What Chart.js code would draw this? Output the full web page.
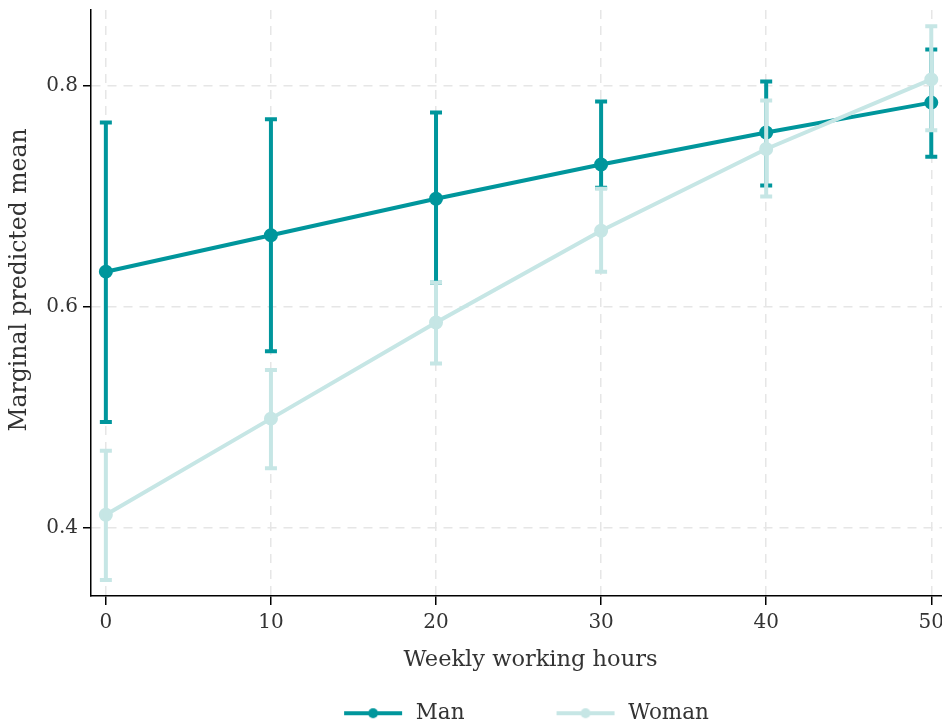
<!DOCTYPE html>
<html>
<head>
<meta charset="utf-8">
<script src="https://cdn.jsdelivr.net/npm/chart.js@4.4.1/dist/chart.umd.min.js"></script>
<style>
  html, body { margin: 0; padding: 0; background: #fff; }
  #wrap { width: 942px; height: 725px; }
</style>
</head>
<body>
<div id="wrap"><canvas id="marginsChart"></canvas></div>
<script>
const hours = [0, 10, 20, 30, 40, 50];
const yTicks = [0.4, 0.6, 0.8];

const manMean = [0.632, 0.665, 0.698, 0.729, 0.758, 0.785];
const manLow  = [0.496, 0.560, 0.622, 0.708, 0.710, 0.736];
const manHigh = [0.767, 0.770, 0.776, 0.786, 0.804, 0.833];

const womanMean = [0.412, 0.499, 0.586, 0.669, 0.743, 0.806];
const womanLow  = [0.353, 0.454, 0.549, 0.632, 0.700, 0.760];
const womanHigh = [0.470, 0.543, 0.622, 0.707, 0.787, 0.854];

const manColor = "#00969c";
const womanColor = "#c6e6e5";
const fontFamily = "'DejaVu Serif', serif";

// legend swatch: blank gap on the left, then line with a dot, small gap on the right
const swatchGap = 89;
const swatchW = swatchGap + 58 + 3;
function legendSwatch(color) {
    const c = document.createElement("canvas");
    c.width = swatchW; c.height = 14;
    const g = c.getContext("2d");
    g.strokeStyle = color;
    g.lineWidth = 4;
    g.beginPath(); g.moveTo(swatchGap, 7); g.lineTo(swatchGap + 58, 7); g.stroke();
    g.fillStyle = color;
    g.beginPath(); g.arc(swatchGap + 29, 7, 5, 0, Math.PI * 2); g.fill();
    return c;
}

const errorBars = {
    id: "errorBars",
    afterDatasetDraw(chart, args) {
        const ds = chart.data.datasets[args.index];
        if (!ds.low) return;
        const ctx = chart.ctx;
        const xs = chart.scales.x, ys = chart.scales.y;
        ctx.save();
        ctx.strokeStyle = ds.borderColor;
        ctx.lineWidth = 4;
        ds.data.forEach((p, i) => {
            const x = xs.getPixelForValue(p.x);
            const y1 = ys.getPixelForValue(ds.low[i]);
            const y2 = ys.getPixelForValue(ds.high[i]);
            ctx.beginPath();
            ctx.moveTo(x, y1); ctx.lineTo(x, y2);
            ctx.moveTo(x - 6, y1); ctx.lineTo(x + 6, y1);
            ctx.moveTo(x - 6, y2); ctx.lineTo(x + 6, y2);
            ctx.stroke();
        });
        ctx.restore();
    }
};

// small position tweaks: legend to the right, axis titles off-centre like the original
function shiftTitle(scale, dx, dy) {
    const draw = scale.drawTitle.bind(scale);
    scale.drawTitle = function () {
        this.left += dx; this.right += dx; this.top += dy; this.bottom += dy;
        draw();
        this.left -= dx; this.right -= dx; this.top -= dy; this.bottom -= dy;
    };
}
const tweaks = {
    id: "tweaks",
    afterLayout(chart) {
        chart.legend.left += 11;
        chart.legend.right += 11;
        if (!chart.scales.x._shifted) {
            shiftTitle(chart.scales.x, 14, 0);
            shiftTitle(chart.scales.y, 0, -23);
            chart.scales.x._shifted = true;
        }
    }
};

const ctx = document.getElementById("marginsChart").getContext("2d");
const myChart = new Chart(ctx, {
    type: "line",
    data: {
        datasets: [{
            label: "Man",
            data: hours.map((h, i) => ({ x: h, y: manMean[i] })),
            low: manLow,
            high: manHigh,
            borderColor: manColor,
            backgroundColor: manColor,
            borderWidth: 4,
            pointRadius: 5,
            order: 2
        }, {
            label: "Woman",
            data: hours.map((h, i) => ({ x: h, y: womanMean[i] })),
            low: womanLow,
            high: womanHigh,
            borderColor: womanColor,
            backgroundColor: womanColor,
            borderWidth: 4,
            pointRadius: 5,
            order: 1
        }]
    },
    options: {
        responsive: true,
        maintainAspectRatio: false,
        animation: false,
        layout: { autoPadding: false, padding: { top: 10, right: 0, bottom: -9, left: 0 } },
        plugins: {
            tooltip: { enabled: false },
            legend: {
                position: "bottom",
                labels: {
                    usePointStyle: true,
                    pointStyleWidth: swatchW,
                    padding: 3,
                    color: "#333",
                    font: { family: fontFamily, size: 21.5 },
                    generateLabels(chart) {
                        return chart.data.datasets.map((ds, i) => ({
                            text: ds.label,
                            datasetIndex: i,
                            pointStyle: legendSwatch(ds.borderColor),
                            fillStyle: ds.borderColor,
                            strokeStyle: ds.borderColor,
                            lineWidth: 0,
                            fontColor: "#333"
                        }));
                    }
                }
            }
        },
        scales: {
            x: {
                type: "linear",
                min: -0.9,
                max: 50.65,
                afterBuildTicks: scale => { scale.ticks = hours.map(v => ({ value: v })); },
                afterFit: scale => {
                    scale.height = 103.5;
                    scale.paddingLeft = 0;
                    scale.paddingRight = 0;
                },
                ticks: { color: "#333", padding: 6, font: { family: fontFamily, size: 20 } },
                grid: { color: "#e6e6e6", lineWidth: 1.5, tickColor: "#000", tickLength: 9, tickWidth: 1.5 },
                border: { color: "#000", width: 1.5, dash: [9, 7] },
                title: { display: true, text: "Weekly working hours", color: "#333", padding: { bottom: 25.5 }, font: { family: fontFamily, size: 22.5 } }
            },
            y: {
                min: 0.3385,
                max: 0.8688,
                afterBuildTicks: scale => { scale.ticks = yTicks.map(v => ({ value: v })); },
                afterFit: scale => {
                    scale.width = 91;
                    scale.paddingTop = 0;
                    scale.paddingBottom = 0;
                },
                ticks: { color: "#333", padding: 5, font: { family: fontFamily, size: 20 }, callback: v => v.toFixed(1) },
                grid: { color: "#e6e6e6", lineWidth: 1.5, tickColor: "#000", tickLength: 8, tickWidth: 1.5 },
                border: { color: "#000", width: 1.5, dash: [9, 7] },
                title: { display: true, text: "Marginal predicted mean", color: "#333", padding: { top: 6 }, font: { family: fontFamily, size: 23.5 } }
            }
        }
    },
    plugins: [errorBars, tweaks]
});
</script>
</body>
</html>
